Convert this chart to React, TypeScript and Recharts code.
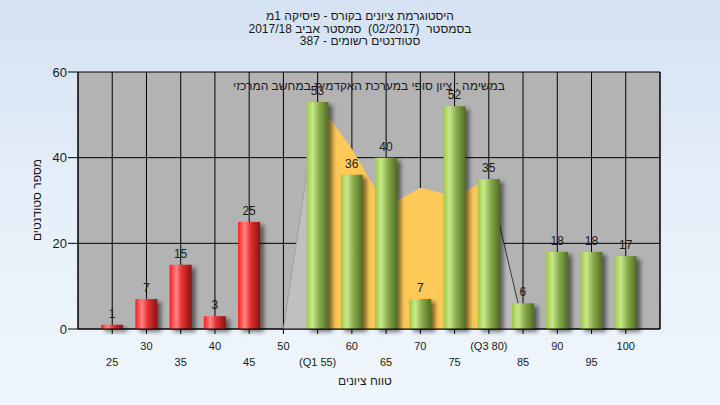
import React from 'react';
import { ComposedChart, Bar, Area, XAxis, YAxis, CartesianGrid, LabelList } from 'recharts';

const grades = [25, 30, 35, 40, 45, 50, 55, 60, 65, 70, 75, 80, 85, 90, 95, 100];
const counts = [1, 7, 15, 3, 25, 0, 53, 36, 40, 7, 52, 35, 6, 18, 18, 17];
const gradeLabels = ['25', '30', '35', '40', '45', '50', '(Q1 55)', '60', '65', '70', '75', '(Q3 80)', '85', '90', '95', '100'];
// curve behind the bars: gray tails outside the quartiles, yellow between Q1 and Q3
const curveLeft = [null, null, null, null, null, 0, 53, null, null, null, null, null, null, null, null, null];
const curveInner = [null, null, null, null, null, null, 53, 42, 28.5, 33, 31, 35, null, null, null, null];
const curveRight = [null, null, null, null, null, null, null, null, null, null, null, 35, 1, null, null, null];
const yTicks = [0, 20, 40, 60];

const titleLines = [
  'היסטוגרמת ציונים בקורס - פיסיקה 1מ',
  'בסמסטר  (02/2017)  סמסטר אביב 2017/18',
  'סטודנטים רשומים - 387',
];
const noteText = 'במשימה : ציון סופי במערכת האקדמית במחשב המרכזי';
const xTitle = 'טווח ציונים';
const yTitle = 'מספר סטודנטים';

const data = grades.map((g, i) => ({
  grade: g,
  count: counts[i],
  left: curveLeft[i],
  inner: curveInner[i],
  right: curveRight[i],
}));

const FONT = '"Liberation Sans", Arial, "DejaVu Sans", sans-serif';

const CylinderBar = (props: any) => {
  const { x, y, width, height, payload } = props;
  if (!height || height <= 0) return null;
  const fill = payload.grade < 50 ? 'url(#redBar)' : 'url(#greenBar)';
  return (
    <g>
      <rect x={x + 4} y={y + 3} width={width} height={height} fill="#000" opacity={0.5} filter="url(#barShadow)" />
      <rect x={x} y={y} width={width} height={height} fill={fill} />
    </g>
  );
};

const ValueLabel = (props: any) => {
  const { x, y, width, value } = props;
  if (!value) return null;
  return (
    <text x={x + width / 2} y={y - 7} textAnchor="middle" fontSize={12} fill="#1a1a1a" fontFamily={FONT}>
      {value}
    </text>
  );
};

const GradeTick = (props: any) => {
  const { x, y, payload } = props;
  const i = grades.indexOf(payload.value);
  const lower = i % 2 === 0;
  return (
    <text x={x} y={y + (lower ? 30 : 14)} textAnchor="middle" fontSize={11} fill="#1a1a1a" fontFamily={FONT}>
      {gradeLabels[i]}
    </text>
  );
};

const App: React.FC = () => {
  return (
    <div
      style={{
        position: 'fixed',
        left: 0,
        top: 0,
        width: 720,
        height: 405,
        background: 'linear-gradient(to bottom, #d5e2f3 0%, #e6eff9 50%, #f0f6fd 100%)',
        fontFamily: FONT,
        color: '#1a1a1a',
      }}
    >
      <ComposedChart width={720} height={405} data={data} margin={{ top: 72, right: 0, bottom: 0, left: 0 }}>
        <defs>
          <linearGradient id="redBar" x1="0" y1="0" x2="1" y2="0">
            <stop offset="0%" stopColor="#ff1e1e" />
            <stop offset="30%" stopColor="#ff8585" />
            <stop offset="55%" stopColor="#e93232" />
            <stop offset="100%" stopColor="#861414" />
          </linearGradient>
          <linearGradient id="greenBar" x1="0" y1="0" x2="1" y2="0">
            <stop offset="0%" stopColor="#9fca45" />
            <stop offset="28%" stopColor="#c9e78b" />
            <stop offset="60%" stopColor="#86a948" />
            <stop offset="100%" stopColor="#526c27" />
          </linearGradient>
          <filter id="barShadow" x="-50%" y="-50%" width="200%" height="200%">
            <feGaussianBlur stdDeviation="2" />
          </filter>
        </defs>
        <CartesianGrid yAxisId="left" stroke="#000" strokeWidth={1} fill="#b3b3b3" fillOpacity={1} />
        <XAxis
          dataKey="grade"
          type="number"
          domain={[20, 105]}
          ticks={grades}
          interval={0}
          height={76}
          tickSize={5}
          tickMargin={2}
          tick={<GradeTick />}
          axisLine={{ stroke: '#000' }}
          tickLine={{ stroke: '#000' }}
        />
        <YAxis
          yAxisId="left"
          orientation="left"
          width={78}
          domain={[0, 60]}
          ticks={yTicks}
          tickSize={10}
          tickMargin={1}
          axisLine={{ stroke: '#000' }}
          tickLine={{ stroke: '#000' }}
          tick={{ fill: '#1a1a1a', fontSize: 13, fontFamily: FONT }}
        />
        <YAxis
          yAxisId="right"
          orientation="right"
          width={60}
          domain={[0, 60]}
          ticks={yTicks}
          tickSize={8}
          tickMargin={3}
          axisLine={{ stroke: '#000' }}
          tickLine={{ stroke: '#000' }}
          tick={{ fill: '#1a1a1a', fontSize: 13, fontFamily: FONT }}
        />
        <Area
          yAxisId="left"
          dataKey="left"
          type="linear"
          fill="#c0c0c0"
          fillOpacity={1}
          stroke="#a0a0a0"
          strokeWidth={1}
          isAnimationActive={false}
        />
        <Area
          yAxisId="left"
          dataKey="right"
          type="linear"
          fill="#bcbcbc"
          fillOpacity={1}
          stroke="#3a3a3a"
          strokeWidth={1}
          isAnimationActive={false}
        />
        <Area
          yAxisId="left"
          dataKey="inner"
          type="linear"
          fill="#fec957"
          fillOpacity={1}
          stroke="none"
          isAnimationActive={false}
        />
        <Bar yAxisId="left" dataKey="count" barSize={22} shape={<CylinderBar />} isAnimationActive={false}>
          <LabelList dataKey="count" content={<ValueLabel />} />
        </Bar>
      </ComposedChart>

      <div
        style={{
          position: 'absolute',
          left: 0,
          top: 10,
          width: 720,
          textAlign: 'center',
          direction: 'rtl',
          fontSize: 12,
          lineHeight: '12.5px',
          whiteSpace: 'pre',
        }}
      >
        {titleLines.map((t) => (
          <div key={t}>{t}</div>
        ))}
      </div>
      <div
        style={{
          position: 'absolute',
          left: 169,
          top: 79,
          width: 400,
          textAlign: 'center',
          direction: 'rtl',
          fontSize: 12,
          lineHeight: '14px',
        }}
      >
        {noteText}
      </div>
      <div
        style={{
          position: 'absolute',
          left: 265,
          top: 374,
          width: 200,
          textAlign: 'center',
          direction: 'rtl',
          fontSize: 12,
          lineHeight: '14px',
        }}
      >
        {xTitle}
      </div>
      <div
        style={{
          position: 'absolute',
          left: -63,
          top: 193,
          width: 200,
          textAlign: 'center',
          direction: 'rtl',
          fontSize: 12,
          lineHeight: '14px',
          transform: 'rotate(-90deg)',
        }}
      >
        {yTitle}
      </div>
    </div>
  );
};

export default App;
